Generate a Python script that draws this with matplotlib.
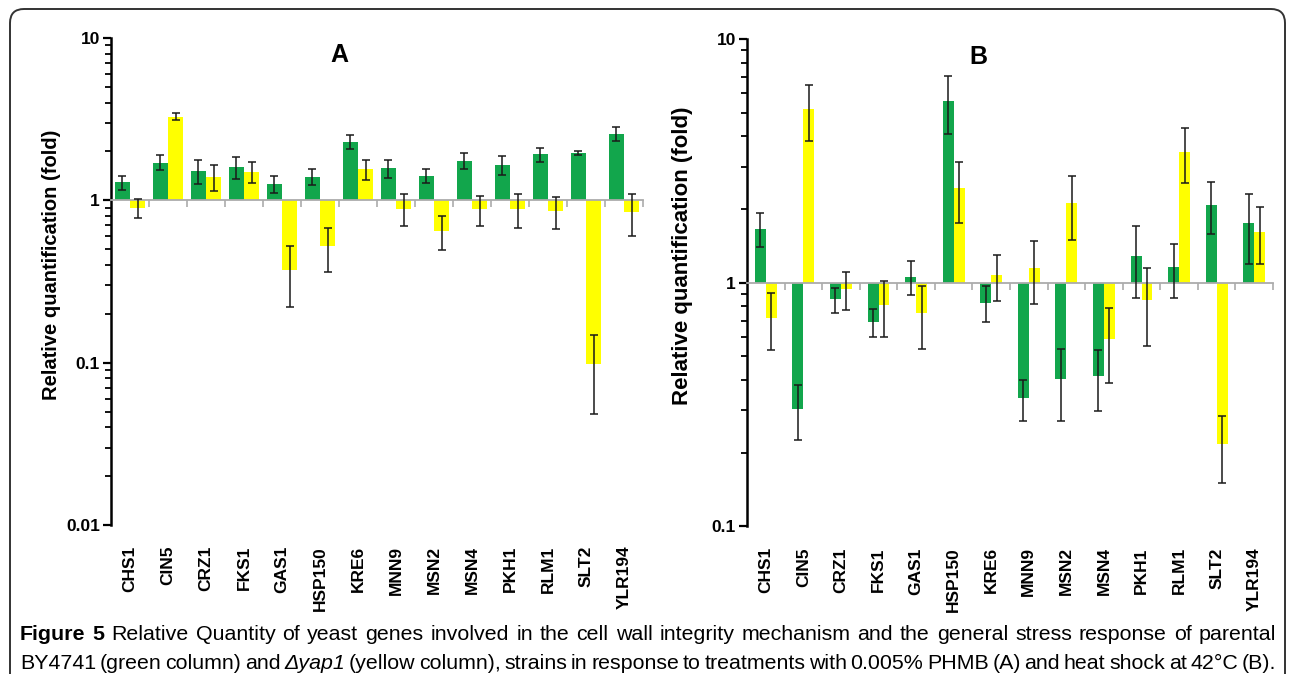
import numpy as np
import matplotlib
matplotlib.use('Agg')
import matplotlib.pyplot as plt
from matplotlib.patches import FancyBboxPatch
from matplotlib.transforms import IdentityTransform
from matplotlib.ticker import FixedLocator, FuncFormatter

# data (fold change, +/- error)
genes = ['CHS1', 'CIN5', 'CRZ1', 'FKS1', 'GAS1', 'HSP150', 'KRE6', 'MNN9',
         'MSN2', 'MSN4', 'PKH1', 'RLM1', 'SLT2', 'YLR194']

a_green = [1.29, 1.71, 1.52, 1.61, 1.26, 1.40, 2.30, 1.58, 1.42, 1.75, 1.66, 1.92, 1.95, 2.56]
a_green_err = [0.13, 0.18, 0.26, 0.25, 0.15, 0.16, 0.24, 0.20, 0.15, 0.20, 0.22, 0.19, 0.05, 0.25]
a_yellow = [0.90, 3.28, 1.40, 1.50, 0.37, 0.52, 1.56, 0.89, 0.65, 0.88, 0.89, 0.86, 0.098, 0.85]
a_yellow_err = [0.12, 0.17, 0.26, 0.23, 0.15, 0.16, 0.22, 0.20, 0.155, 0.19, 0.21, 0.19, 0.05, 0.25]

b_green = [1.67, 0.304, 0.855, 0.69, 1.06, 5.57, 0.83, 0.335, 0.402, 0.414, 1.29, 1.16, 2.09, 1.76]
b_green_err = [0.27, 0.078, 0.10, 0.09, 0.17, 1.48, 0.14, 0.065, 0.132, 0.117, 0.42, 0.29, 0.50, 0.56]
b_yellow = [0.72, 5.16, 0.94, 0.81, 0.753, 2.45, 1.075, 1.15, 2.12, 0.586, 0.849, 3.45, 0.217, 1.62]
b_yellow_err = [0.19, 1.34, 0.165, 0.21, 0.22, 0.69, 0.23, 0.33, 0.62, 0.20, 0.30, 0.87, 0.066, 0.43]

caption_1 = [('Figure', 'bold', 'normal'), ('5', 'bold', 'normal')] + \
    [(w, 'normal', 'normal') for w in
     'Relative Quantity of yeast genes involved in the cell wall integrity mechanism '
     'and the general stress response of parental'.split()]
caption_2 = [(w, 'normal', 'normal') for w in 'BY4741 (green column) and'.split()] + \
    [('\u0394yap1', 'normal', 'italic')] + \
    [(w, 'normal', 'normal') for w in
     '(yellow column), strains in response to treatments with 0.005% PHMB (A) '
     'and heat shock at 42\u00b0C (B).'.split()]

GREEN = '#12a64c'
YELLOW = '#ffff00'

plt.rcParams['font.family'] = ['Liberation Sans', 'DejaVu Sans']

W, H = 1290, 674
fig = plt.figure(figsize=(W / 100, H / 100), dpi=100)

# outer rounded frame
frame = FancyBboxPatch((10, -40), 1275, 705, boxstyle='round,pad=0,rounding_size=14',
                       transform=IdentityTransform(), fill=False, lw=1.4, ec='#333333')
fig.add_artist(frame)


def panel(rect, green, green_err, yellow, yellow_err, ylim, width, letter, title_xy,
          ylab_xy, ylab_size):
    ax = fig.add_axes(rect)
    ax.set_yscale('log')
    x = np.arange(len(genes))
    g = np.array(green)
    yv = np.array(yellow)
    ax.bar(x - width / 2, g - 1, bottom=1, width=width, color=GREEN, zorder=2)
    ax.bar(x + width / 2, yv - 1, bottom=1, width=width, color=YELLOW, zorder=2)
    ax.errorbar(x - width / 2, g, yerr=green_err, fmt='none', ecolor='#1a1a1a',
                elinewidth=1.1, capsize=3, capthick=1.1, zorder=3)
    ax.errorbar(x + width / 2, yv, yerr=yellow_err, fmt='none', ecolor='#1a1a1a',
                elinewidth=1.1, capsize=3, capthick=1.1, zorder=3)
    ax.set_xlim(-0.5, len(genes) - 0.5)
    ax.set_ylim(*ylim)

    for s in ['right', 'bottom']:
        ax.spines[s].set_visible(False)
    ax.spines['left'].set_linewidth(1.8)
    ax.spines['top'].set_position(('data', 1))
    ax.spines['top'].set_color('#ababab')
    ax.spines['top'].set_linewidth(1.3)

    ax.set_xticks(x)
    ax.set_xticklabels(genes, rotation=90, fontsize=12.5, fontweight='bold')
    ax.xaxis.set_minor_locator(FixedLocator(np.arange(0.5, len(genes), 1)))
    ax.tick_params(axis='x', which='major', bottom=True, top=False, length=0, pad=15,
                   labelbottom=True, labeltop=False)
    ax.tick_params(axis='x', which='minor', bottom=False, top=True, direction='in',
                   length=5, width=1.2, color='#ababab')

    ax.yaxis.set_major_formatter(FuncFormatter(lambda v, p: '%g' % v))
    ax.tick_params(axis='y', which='major', length=6, width=1.6, labelsize=12.5, pad=2)
    ax.tick_params(axis='y', which='minor', length=4, width=1.3)
    for lab in ax.get_yticklabels():
        lab.set_fontweight('bold')

    ax.set_ylabel('Relative quantification (fold)', fontsize=ylab_size, fontweight='bold')
    ax.yaxis.set_label_coords(*ylab_xy)
    ax.text(title_xy[0], title_xy[1], letter, transform=ax.transAxes, ha='center',
            va='center', fontsize=18, fontweight='bold')
    return ax


axA = panel([111 / W, (H - 525) / H, 532 / W, 487 / H], a_green, a_green_err,
            a_yellow, a_yellow_err, (0.01, 10), 0.4, 'A', (0.43, 0.965), (-0.094, 0.535), 14.5)
axB = panel([747 / W, (H - 526.3) / H, 526 / W, 487 / H], b_green, b_green_err,
            b_yellow, b_yellow_err, (0.1, 10), 0.29, 'B', (0.439, 0.963), (-0.103, 0.555), 16)

# caption, justified between x0 and x1; font size picked so the first line fits
cap_family = ['Liberation Sans', 'DejaVu Sans']
renderer = fig.canvas.get_renderer()
X0, X1 = 20, 1276


def make_line(words, y, size):
    return [fig.text(0, y, w, transform=IdentityTransform(), fontsize=size,
                     fontweight=wt, fontstyle=st, family=cap_family, va='baseline')
            for w, wt, st in words]


def justify(texts):
    widths = [t.get_window_extent(renderer).width for t in texts]
    gap = (X1 - X0 - sum(widths)) / (len(texts) - 1)
    xpos = X0
    for t, wdt in zip(texts, widths):
        t.set_x(xpos)
        xpos += wdt + gap


probe = make_line(caption_1, H - 641, 10)
w10 = sum(t.get_window_extent(renderer).width for t in probe)
for t in probe:
    t.remove()
space10 = 0.278 * 10 * 100 / 72
cap_size = 10 * (X1 - X0) / (w10 + (len(caption_1) - 1) * space10 * 1.15)

justify(make_line(caption_1, H - 640, cap_size))
justify(make_line(caption_2, H - 669, cap_size))

fig.savefig('out.png', dpi=100)
